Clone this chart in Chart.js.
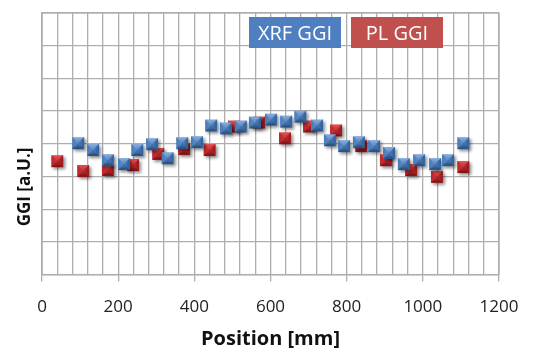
<!DOCTYPE html>
<html>
<head>
<meta charset="utf-8">
<script src="https://cdn.jsdelivr.net/npm/chart.js@4/dist/chart.umd.min.js"></script>
<style>
  html, body { margin: 0; padding: 0; background: #ffffff; }
  #wrap { position: relative; width: 542px; height: 355px; }
</style>
</head>
<body>
<div id="wrap"><canvas id="c" width="542" height="355"></canvas></div>
<script>
// ---- data ----
const xrfPosition = [95, 134, 173, 215, 250, 289, 330, 368, 407, 444, 483, 522, 559, 601, 641, 678, 722, 756, 793, 832, 872, 911, 950, 990, 1032, 1066, 1106];
const xrfGGI      = [4.02, 3.81, 3.50, 3.38, 3.81, 3.99, 3.56, 4.02, 4.05, 4.56, 4.47, 4.53, 4.65, 4.74, 4.68, 4.83, 4.56, 4.11, 3.93, 4.05, 3.93, 3.72, 3.38, 3.50, 3.38, 3.50, 4.02];
const plPosition  = [40, 108, 173, 239, 305, 373, 440, 504, 570, 638, 701, 772, 838, 903, 969, 1037, 1106];
const plGGI       = [3.47, 3.17, 3.20, 3.35, 3.69, 3.84, 3.81, 4.53, 4.65, 4.17, 4.53, 4.41, 3.93, 3.50, 3.20, 2.99, 3.29];
const seriesNames = ["XRF GGI", "PL GGI"];
const xTickLabels = [0, 200, 400, 600, 800, 1000, 1200];
const axisTitles  = { x: "Position [mm]", y: "GGI [a.U.]" };

const FONT = '"Open Sans", Lato, sans-serif';

function bevelMarker(light, base, dark, darker) {
  const c = document.createElement('canvas');
  c.width = 22; c.height = 22;
  const g = c.getContext('2d');
  const s = 12, x0 = 11 - s / 2, y0 = 11 - s / 2;
  g.save();
  g.shadowColor = 'rgba(0,0,0,0.45)';
  g.shadowBlur = 3;
  g.shadowOffsetX = 2;
  g.shadowOffsetY = 2;
  g.fillStyle = base;
  g.fillRect(x0, y0, s, s);
  g.restore();
  const cx = 11, cy = 11, x1 = x0 + s, y1 = y0 + s;
  const tri = (col, pts) => { g.fillStyle = col; g.beginPath(); g.moveTo(pts[0], pts[1]); g.lineTo(pts[2], pts[3]); g.lineTo(pts[4], pts[5]); g.closePath(); g.fill(); };
  tri(light, [x0, y0, x1, y0, cx, cy]);
  tri(base,  [x0, y0, x0, y1, cx, cy]);
  tri(dark,  [x1, y0, x1, y1, cx, cy]);
  tri(darker,[x0, y1, x1, y1, cx, cy]);
  const inset = 2.5;
  const grad = g.createLinearGradient(x0, y0, x1, y1);
  grad.addColorStop(0, light);
  grad.addColorStop(1, dark);
  g.fillStyle = grad;
  g.globalAlpha = 0.55;
  g.fillRect(x0 + inset, y0 + inset, s - 2 * inset, s - 2 * inset);
  g.globalAlpha = 1;
  return c;
}
const blueMarker = bevelMarker('#7ea6d9', '#4a7ebb', '#3465a0', '#2a5386');
const redMarker  = bevelMarker('#e0494b', '#c0282c', '#9e1c20', '#861418');

const xrfData = xrfPosition.map((p, i) => ({ x: p, y: xrfGGI[i] }));
const plData  = plPosition.map((p, i) => ({ x: p, y: plGGI[i] }));

const legendColors = ['#4f7fc0', '#c0504d'];

const boxLegend = {
  id: 'boxLegend',
  afterDraw(chart) {
    const ctx = chart.ctx;
    const boxes = [ { x: 249, w: 92 }, { x: 351, w: 92 } ];
    ctx.save();
    chart.data.datasets.forEach((ds, i) => {
      const b = boxes[i];
      ctx.fillStyle = legendColors[i];
      ctx.fillRect(b.x, 17, b.w, 31);
      ctx.fillStyle = '#ffffff';
      ctx.font = '20px ' + FONT;
      ctx.textAlign = 'center';
      ctx.textBaseline = 'middle';
      ctx.fillText(ds.label, b.x + b.w / 2, 34);
    });
    ctx.restore();
  }
};

const yTitle = {
  id: 'yTitle',
  afterDraw(chart) {
    const ctx = chart.ctx;
    ctx.save();
    ctx.translate(25, 187);
    ctx.rotate(-Math.PI / 2);
    ctx.fillStyle = '#111111';
    ctx.font = 'bold 17px ' + FONT;
    ctx.textAlign = 'center';
    ctx.textBaseline = 'middle';
    ctx.fillText(axisTitles.y, 0, 0);
    ctx.restore();
  }
};

new Chart(document.getElementById('c'), {
  type: 'scatter',
  data: {
    datasets: [
      { label: seriesNames[0], data: xrfData, pointStyle: blueMarker, pointRadius: 6, pointHoverRadius: 6 },
      { label: seriesNames[1], data: plData,  pointStyle: redMarker,  pointRadius: 6, pointHoverRadius: 6 }
    ]
  },
  options: {
    responsive: false,
    animation: false,
    events: [],
    layout: { padding: { left: 0, right: 43, top: 13, bottom: 4 } },
    plugins: { legend: { display: false }, tooltip: { enabled: false } },
    scales: {
      x: {
        type: 'linear',
        min: 0, max: 1200,
        afterBuildTicks(scale) {
          const t = [];
          for (let v = 0; v <= 1200; v += 40) t.push({ value: v });
          scale.ticks = t;
        },
        ticks: {
          autoSkip: false,
          maxRotation: 0,
          padding: 15,
          color: '#222222',
          font: { family: FONT, size: 17 },
          callback: (v) => xTickLabels.includes(v) ? String(v) : ''
        },
        grid: {
          color: '#aeaeae',
          lineWidth: 1.3,
          tickLength: 7,
          tickColor: (ctx) => (ctx.tick && xTickLabels.includes(ctx.tick.value)) ? '#aeaeae' : 'rgba(0,0,0,0)'
        },
        border: { color: '#aeaeae', width: 1.3 },
        title: {
          display: true,
          text: axisTitles.x,
          color: '#111111',
          font: { family: FONT, size: 20, weight: 'bold' },
          padding: { top: -5, bottom: 0 }
        }
      },
      y: {
        min: 0, max: 8,
        ticks: { display: false, stepSize: 1 },
        grid: { color: '#aeaeae', lineWidth: 1.3, drawTicks: false },
        border: { color: '#aeaeae', width: 1.3 },
        afterFit(scale) { scale.width = 42; }
      }
    }
  },
  plugins: [
    {
      id: 'frame',
      beforeDatasetsDraw(chart) {
        const a = chart.chartArea, ctx = chart.ctx;
        ctx.save();
        ctx.strokeStyle = '#aeaeae';
        ctx.lineWidth = 1.3;
        ctx.strokeRect(a.left, a.top, a.right - a.left, a.bottom - a.top);
        ctx.restore();
      }
    },
    boxLegend,
    yTitle
  ]
});
</script>
</body>
</html>
